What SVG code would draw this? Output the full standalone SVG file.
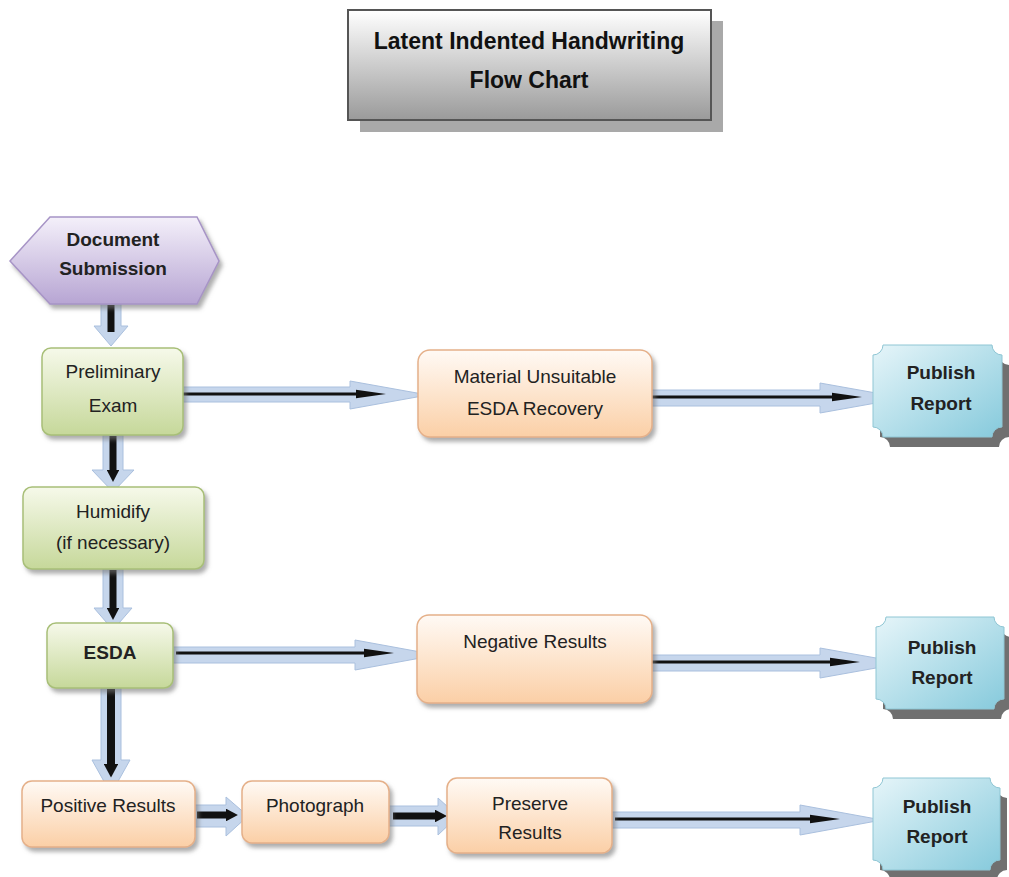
<svg xmlns="http://www.w3.org/2000/svg" width="1009" height="877" viewBox="0 0 1009 877">
<defs>
<linearGradient id="gTitle" x1="0" y1="0" x2="0" y2="1"><stop offset="0" stop-color="#ffffff"/><stop offset="1" stop-color="#9a9a9a"/></linearGradient>
<linearGradient id="gHex" x1="0" y1="0" x2="0" y2="1"><stop offset="0" stop-color="#f4f0fa"/><stop offset="1" stop-color="#b7a5d3"/></linearGradient>
<linearGradient id="gGreen" x1="0" y1="0" x2="0" y2="1"><stop offset="0" stop-color="#f6f9ea"/><stop offset="1" stop-color="#c6d89a"/></linearGradient>
<linearGradient id="gOrange" x1="0" y1="0" x2="0" y2="1"><stop offset="0" stop-color="#fffaf5"/><stop offset="1" stop-color="#fbcfa6"/></linearGradient>
<linearGradient id="gBlue" x1="0" y1="0" x2="1" y2="1"><stop offset="0" stop-color="#e6f5f9"/><stop offset="1" stop-color="#86cadc"/></linearGradient>
<filter id="sh" x="-10%" y="-10%" width="130%" height="140%"><feDropShadow dx="3" dy="4" stdDeviation="2" flood-color="#777" flood-opacity="0.6"/></filter>
<marker id="ahv" markerWidth="1.7" markerHeight="1.8" refX="0" refY="0.9" orient="auto" markerUnits="strokeWidth"><path d="M0,0 L1.7,0.9 L0,1.8 Z" fill="#111"/></marker>
<marker id="ahs" markerWidth="10" markerHeight="4" refX="0" refY="2" orient="auto" markerUnits="strokeWidth"><path d="M0,0.6 L10,2 L0,3.4 Z" fill="#111"/></marker>
</defs>
<style>
text{font-family:"Liberation Sans",Arial,sans-serif;font-size:19px;fill:#222;text-anchor:middle}
.b{font-weight:bold}
.t{font-size:23px;font-weight:bold;fill:#111}
.green{fill:url(#gGreen);stroke:#a8bf78;stroke-width:1.5;filter:url(#sh)}
.orange{fill:url(#gOrange);stroke:#e5b089;stroke-width:1.5;filter:url(#sh)}
.pub{fill:url(#gBlue);stroke:#8fc6d4;stroke-width:1}
.pubsh{fill:#707070}
.ba{fill:#c6d6ec;stroke:#aac0de;stroke-width:1}
.bl{stroke:#111;fill:none}
</style>

<g id="title">
<rect x="360" y="21" width="363" height="111" fill="#a9a9a9"/>
<rect x="348" y="10" width="363" height="110" fill="url(#gTitle)" stroke="#555" stroke-width="2"/>
<text class="t" x="529" y="49">Latent Indented Handwriting</text>
<text class="t" x="529" y="88">Flow Chart</text>
</g>

<g id="connectors">
<!-- Doc -> Prelim -->
<polygon class="ba" points="101,300 121,300 121,326 128,326 111,346 94,326 101,326"/>
<line class="bl" x1="111" y1="305" x2="111" y2="332" stroke-width="7"/>
<!-- Prelim -> Humidify -->
<polygon class="ba" points="103,435 123,435 123,470 134,470 113,492 92,470 103,470"/>
<line class="bl" x1="113" y1="436" x2="113" y2="470" stroke-width="7" marker-end="url(#ahv)"/>
<!-- Humidify -> ESDA -->
<polygon class="ba" points="103,569 123,569 123,608 132,608 113,630 94,608 103,608"/>
<line class="bl" x1="113" y1="570" x2="113" y2="608" stroke-width="7" marker-end="url(#ahv)"/>
<!-- ESDA -> Positive -->
<polygon class="ba" points="101,688 121,688 121,760 130,760 111,794 92,760 101,760"/>
<line class="bl" x1="111" y1="689" x2="111" y2="764" stroke-width="8" marker-end="url(#ahv)"/>
<!-- Prelim -> Material -->
<polygon class="ba" points="176,387 350,387 350,381 428,395 350,409 350,402 176,402"/>
<line class="bl" x1="177" y1="394" x2="356" y2="394" stroke-width="3" marker-end="url(#ahs)"/>
<!-- Material -> Publish1 -->
<polygon class="ba" points="648,390 820,390 820,383 904,398 820,413 820,406 648,406"/>
<line class="bl" x1="652" y1="397" x2="832" y2="397" stroke-width="3" marker-end="url(#ahs)"/>
<!-- ESDA -> Negative -->
<polygon class="ba" points="170,647 355,647 355,640 437,655 355,670 355,663 170,663"/>
<line class="bl" x1="176" y1="653" x2="364" y2="653" stroke-width="3" marker-end="url(#ahs)"/>
<!-- Negative -> Publish2 -->
<polygon class="ba" points="648,655 820,655 820,648 904,663 820,678 820,671 648,671"/>
<line class="bl" x1="652" y1="662" x2="830" y2="662" stroke-width="3" marker-end="url(#ahs)"/>
<!-- Positive -> Photograph -->
<polygon class="ba" points="193,805 226,805 226,797 248,816 226,836 226,827 193,827"/>
<line class="bl" x1="197" y1="815" x2="226" y2="815" stroke-width="7" marker-end="url(#ahv)"/>
<!-- Photograph -> Preserve -->
<polygon class="ba" points="388,806 438,806 438,798 458,816 438,835 438,826 388,826"/>
<line class="bl" x1="393" y1="816" x2="435" y2="816" stroke-width="7" marker-end="url(#ahv)"/>
<!-- Preserve -> Publish3 -->
<polygon class="ba" points="610,812 800,812 800,805 882,820 800,835 800,828 610,828"/>
<line class="bl" x1="615" y1="819" x2="810" y2="819" stroke-width="3" marker-end="url(#ahs)"/>
</g>

<g id="doc-submission">
<polygon points="10,261 50,217 197,217 219,261 197,304 50,304" fill="url(#gHex)" stroke="#a794c6" stroke-width="1.5" filter="url(#sh)"/>
<text class="b" x="113" y="246">Document</text>
<text class="b" x="113" y="275">Submission</text>
</g>

<g id="preliminary-exam">
<rect class="green" x="42" y="348" width="141" height="87" rx="9"/>
<text x="113" y="378">Preliminary</text>
<text x="113" y="412">Exam</text>
</g>

<g id="humidify">
<rect class="green" x="23" y="487" width="181" height="82" rx="9"/>
<text x="113" y="518">Humidify</text>
<text x="113" y="549">(if necessary)</text>
</g>

<g id="esda">
<rect class="green" x="47" y="623" width="126" height="65" rx="9"/>
<text class="b" x="110" y="659">ESDA</text>
</g>

<g id="material-unsuitable">
<rect class="orange" x="418" y="350" width="234" height="87" rx="12"/>
<text x="535" y="383">Material Unsuitable</text>
<text x="535" y="415">ESDA Recovery</text>
</g>

<g id="negative-results">
<rect class="orange" x="417" y="615" width="235" height="88" rx="12"/>
<text x="535" y="648">Negative Results</text>
</g>

<g id="positive-results">
<rect class="orange" x="22" y="781" width="173" height="66" rx="10"/>
<text x="108" y="812">Positive Results</text>
</g>

<g id="photograph">
<rect class="orange" x="242" y="781" width="147" height="62" rx="10"/>
<text x="315" y="812">Photograph</text>
</g>

<g id="preserve-results">
<rect class="orange" x="447" y="778" width="165" height="75" rx="10"/>
<text x="530" y="810">Preserve</text>
<text x="530" y="839">Results</text>
</g>

<g id="publish-report-1">
<path class="pubsh" transform="translate(7,10)" d="M883,345 L992,345 A10,10 0 0 0 1002,355 L1002,427 A10,10 0 0 0 992,437 L883,437 A10,10 0 0 0 873,427 L873,355 A10,10 0 0 0 883,345 Z"/>
<path class="pub" d="M883,345 L992,345 A10,10 0 0 0 1002,355 L1002,427 A10,10 0 0 0 992,437 L883,437 A10,10 0 0 0 873,427 L873,355 A10,10 0 0 0 883,345 Z"/>
<text class="b" x="941" y="379">Publish</text>
<text class="b" x="941" y="410">Report</text>
</g>

<g id="publish-report-2">
<path class="pubsh" transform="translate(7,10)" d="M886,617 L994,617 A10,10 0 0 0 1004,627 L1004,699 A10,10 0 0 0 994,709 L886,709 A10,10 0 0 0 876,699 L876,627 A10,10 0 0 0 886,617 Z"/>
<path class="pub" d="M886,617 L994,617 A10,10 0 0 0 1004,627 L1004,699 A10,10 0 0 0 994,709 L886,709 A10,10 0 0 0 876,699 L876,627 A10,10 0 0 0 886,617 Z"/>
<text class="b" x="942" y="654">Publish</text>
<text class="b" x="942" y="684">Report</text>
</g>

<g id="publish-report-3">
<path class="pubsh" transform="translate(7,10)" d="M883,778 L990,778 A10,10 0 0 0 1000,788 L1000,860 A10,10 0 0 0 990,870 L883,870 A10,10 0 0 0 873,860 L873,788 A10,10 0 0 0 883,778 Z"/>
<path class="pub" d="M883,778 L990,778 A10,10 0 0 0 1000,788 L1000,860 A10,10 0 0 0 990,870 L883,870 A10,10 0 0 0 873,860 L873,788 A10,10 0 0 0 883,778 Z"/>
<text class="b" x="937" y="813">Publish</text>
<text class="b" x="937" y="843">Report</text>
</g>
</svg>
